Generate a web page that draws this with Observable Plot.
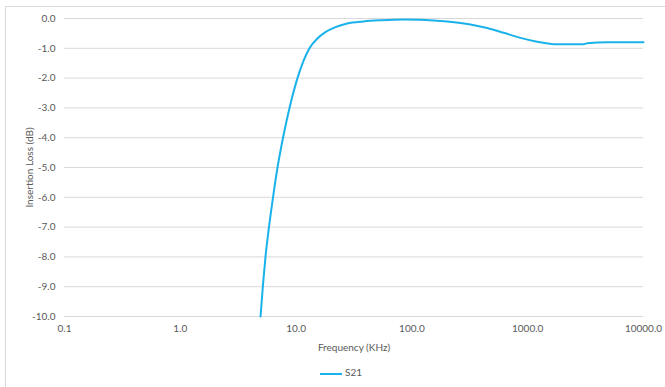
<!DOCTYPE html>
<html>
<head>
<meta charset="utf-8">
<script src="https://cdn.jsdelivr.net/npm/d3@7"></script>
<script src="https://cdn.jsdelivr.net/npm/@observablehq/plot@0.6"></script>
<style>
  body { margin: 0; background: #fff; }
  #wrap { position: relative; width: 665px; height: 387px; overflow: hidden; font-family: Lato, "Open Sans", sans-serif; }
  #frame { position: absolute; left: 5px; top: 6px; width: 700px; height: 400px; border-left: 1px solid #d9d9d9; border-top: 1px solid #d9d9d9; pointer-events: none; }
  #chart { position: absolute; left: 0; top: 0; }
  #legend { position: absolute; left: 0; top: 365px; width: 665px; height: 18px; }
  #legend .sw { position: absolute; left: 320px; top: 8px; width: 22px; height: 2px; background: #1ab2ea; }
  #legend .lb { position: absolute; left: 345px; top: 1px; font-size: 10px; color: #595959; }
</style>
</head>
<body>
<div id="wrap">
  <div id="frame"></div>
  <div id="chart"></div>
  <div id="legend"><div class="sw"></div><div class="lb">S21</div></div>
</div>
<script>
const freqKHz = [4.93, 5.16, 5.44, 5.83, 6.32, 6.91, 7.71, 8.77, 10.28, 13.05, 15.2, 17.9, 21.9, 27.6, 38.2, 53.6, 84.6, 118.7, 201.7, 320.6, 447, 622, 866, 1208, 1681, 3051, 3265, 4859, 10000];
const s21dB   = [-10.0, -9.0, -8.0, -7.0, -6.0, -5.0, -4.0, -3.0, -2.0, -1.0, -0.68, -0.46, -0.29, -0.17, -0.10, -0.06, -0.03, -0.04, -0.10, -0.20, -0.32, -0.48, -0.65, -0.78, -0.86, -0.86, -0.83, -0.80, -0.80];
const xTicks = [0.1, 1, 10, 100, 1000, 10000];
const yTicks = [0, -1, -2, -3, -4, -5, -6, -7, -8, -9, -10];
const seriesName = "S21";

const data = freqKHz.map((f, i) => ({f, v: s21dB[i]}));

const chart = Plot.plot({
  width: 665,
  height: 360,
  marginLeft: 64,
  marginRight: 22,
  marginTop: 18,
  marginBottom: 44,
  style: {fontFamily: "Lato, 'Open Sans', sans-serif", fontSize: "10px", color: "#595959", background: "transparent"},
  x: {type: "log", domain: [0.1, 10000]},
  y: {domain: [-10, 0]},
  marks: [
    Plot.gridY(yTicks, {stroke: "#d9d9d9", strokeOpacity: 1, strokeWidth: 1}),
    Plot.axisY(yTicks, {tickSize: 0, tickPadding: 9, tickFormat: d => d.toFixed(1), label: "Insertion Loss (dB)", labelAnchor: "center", labelArrow: "none", labelOffset: 39, fill: "#595959"}),
    Plot.axisX(xTicks, {tickSize: 0, tickPadding: 8, tickFormat: d => d.toFixed(1), label: "Frequency (KHz)", labelAnchor: "center", labelArrow: "none", labelOffset: 34, fill: "#595959"}),
    Plot.line(data, {x: "f", y: "v", stroke: "#1ab2ea", strokeWidth: 2, curve: "monotone-x"})
  ]
});
document.getElementById("chart").appendChild(chart);
</script>
</body>
</html>
